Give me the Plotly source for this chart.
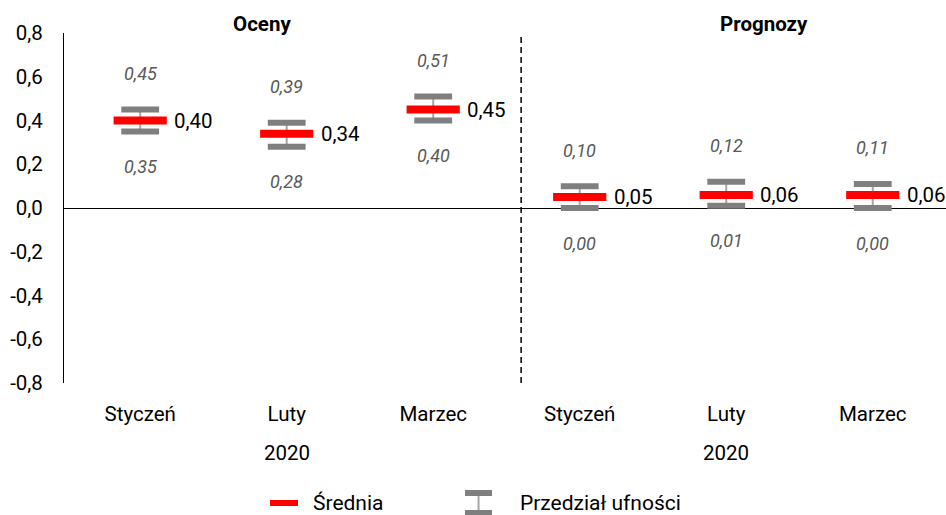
import plotly.graph_objects as go

# ---- data ----
categories = ["Styczeń", "Luty", "Marzec", "Styczeń", "Luty", "Marzec"]
mean_vals = [0.40, 0.34, 0.45, 0.05, 0.06, 0.06]
upper_vals = [0.45, 0.39, 0.51, 0.10, 0.12, 0.11]
lower_vals = [0.35, 0.28, 0.40, 0.00, 0.01, 0.00]
group_titles = ["Oceny", "Prognozy"]
year_labels = ["2020", "2020"]
y_ticks = [-0.8, -0.6, -0.4, -0.2, 0.0, 0.2, 0.4, 0.6, 0.8]
y_tick_labels = ["-0,8", "-0,6", "-0,4", "-0,2", "0,0", "0,2", "0,4", "0,6", "0,8"]
legend_names = ["Średnia", "Przedział ufności"]

FONT = "Roboto"
RED = "#FF0000"
GREY = "#7F7F7F"
STEM = "#A6A6A6"
LABEL_GREY = "#595959"


def fmt(v):
    return f"{v:.2f}".replace(".", ",")


xs = list(range(len(categories)))

fig = go.Figure()

# confidence interval stem
fig.add_trace(go.Scatter(
    x=xs, y=mean_vals, mode="markers",
    marker=dict(size=0.1, color="rgba(0,0,0,0)"),
    error_y=dict(type="data", symmetric=False,
                 array=[u - m for u, m in zip(upper_vals, mean_vals)],
                 arrayminus=[m - l for m, l in zip(mean_vals, lower_vals)],
                 color=STEM, thickness=2, width=0),
    showlegend=False, hoverinfo="skip",
))

# caps
fig.add_trace(go.Scatter(
    x=xs + xs, y=upper_vals + lower_vals, mode="markers",
    marker=dict(symbol="line-ew", size=27, line=dict(width=6, color=GREY)),
    showlegend=False, hoverinfo="skip",
))

# mean
fig.add_trace(go.Scatter(
    x=xs, y=mean_vals, mode="markers",
    marker=dict(symbol="line-ew", size=38, line=dict(width=8, color=RED)),
    showlegend=False, hoverinfo="skip",
))

annotations = []
for i in xs:
    annotations.append(dict(x=i, y=upper_vals[i], xref="x", yref="y", yanchor="middle",
                            text=fmt(upper_vals[i]), showarrow=False, yshift=36,
                            font=dict(family=FONT, size=18, color=LABEL_GREY, style="italic")))
    annotations.append(dict(x=i, y=lower_vals[i], xref="x", yref="y", yanchor="middle",
                            text=fmt(lower_vals[i]), showarrow=False, yshift=-35,
                            font=dict(family=FONT, size=18, color=LABEL_GREY, style="italic")))
    annotations.append(dict(x=i, y=mean_vals[i], xref="x", yref="y", yanchor="middle",
                            text=fmt(mean_vals[i]), showarrow=False, xanchor="left", xshift=32,
                            font=dict(family=FONT, size=20.5, color="#000000")))

# group titles
for t, px in zip(group_titles, [0.2245, 0.794]):
    annotations.append(dict(x=px, y=1, xref="paper", yref="paper", text=f"<b>{t}</b>",
                            showarrow=False, xanchor="center", yanchor="middle", yshift=9,
                            font=dict(family=FONT, size=20.5, color="#000000")))

# year labels
for yl, cx in zip(year_labels, [1, 4]):
    annotations.append(dict(x=cx, y=-0.2, xref="x", yref="paper", text=yl, showarrow=False,
                            xanchor="center", yanchor="middle",
                            font=dict(family=FONT, size=20.5, color="#000000")))

# legend texts
annotations.append(dict(x=0.280, y=-0.343, xref="paper", yref="paper", text=legend_names[0],
                        showarrow=False, xanchor="left", yanchor="middle",
                        font=dict(family=FONT, size=21, color="#000000")))
annotations.append(dict(x=0.5147, y=-0.343, xref="paper", yref="paper", text=legend_names[1],
                        showarrow=False, xanchor="left", yanchor="middle",
                        font=dict(family=FONT, size=21, color="#000000")))

shapes = [
    # separator between assessments and forecasts
    dict(type="line", xref="x", yref="paper", x0=2.6, x1=2.6, y0=0, y1=1,
         line=dict(color="#000000", width=1.5, dash="6px,4px")),
    # legend glyph: mean
    dict(type="rect", xref="paper", yref="paper", x0=0.2336, x1=0.2653, y0=-0.3514, y1=-0.3343,
         fillcolor=RED, line=dict(width=0)),
    # legend glyph: interval
    dict(type="rect", xref="paper", yref="paper", x0=0.4546, x1=0.4853, y0=-0.3229, y1=-0.3057,
         fillcolor=GREY, line=dict(width=0)),
    dict(type="rect", xref="paper", yref="paper", x0=0.4546, x1=0.4853, y0=-0.38, y1=-0.3629,
         fillcolor=GREY, line=dict(width=0)),
    dict(type="line", xref="paper", yref="paper", x0=0.47, x1=0.47, y0=-0.3629, y1=-0.3229,
         line=dict(color=STEM, width=2)),
]

fig.update_layout(
    width=946, height=515,
    margin=dict(l=64, r=0, t=33, b=132, autoexpand=False),
    paper_bgcolor="white", plot_bgcolor="white",
    font=dict(family=FONT, size=20, color="#000000"),
    showlegend=False,
    annotations=annotations,
    shapes=shapes,
    xaxis=dict(range=[-0.52, 5.5], tickmode="array", tickvals=xs, ticktext=categories,
               showgrid=False, zeroline=False, showline=False, ticks="", automargin=False,
               tickfont=dict(family=FONT, size=20.5, color="#000000"), ticklabelstandoff=16,
               fixedrange=True),
    yaxis=dict(range=[-0.8, 0.8], tickmode="array", tickvals=y_ticks, ticktext=y_tick_labels,
               showgrid=False, zeroline=True, zerolinecolor="#000000", zerolinewidth=1,
               showline=True, linecolor="#000000", linewidth=1, ticks="", automargin=False,
               tickfont=dict(family=FONT, size=20.5, color="#000000"), ticklabelstandoff=16,
               fixedrange=True),
)

fig.write_html("out.html", config={"displayModeBar": False, "staticPlot": True},
               post_script="document.body.style.margin='0';document.body.style.overflow='hidden';")
